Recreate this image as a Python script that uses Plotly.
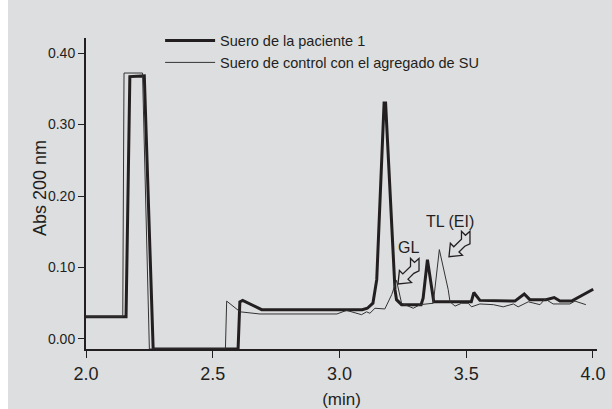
import plotly.graph_objects as go

# Serie 1: suero de la paciente 1 (trazo grueso)
t_paciente = [2.000, 2.158, 2.173, 2.230, 2.265, 2.600, 2.607, 2.618, 2.693, 3.090,
              3.110, 3.132, 3.147, 3.176, 3.182, 3.219, 3.225, 3.245, 3.322, 3.330,
              3.347, 3.372, 3.520, 3.530, 3.554, 3.692, 3.729, 3.751, 3.815, 3.847,
              3.870, 3.916, 4.001]
abs_paciente = [0.031, 0.031, 0.367, 0.368, -0.014, -0.014, 0.052, 0.054, 0.041, 0.041,
                0.043, 0.050, 0.083, 0.330, 0.330, 0.069, 0.055, 0.048, 0.048, 0.057,
                0.111, 0.052, 0.052, 0.065, 0.054, 0.053, 0.063, 0.055, 0.055, 0.058,
                0.053, 0.053, 0.0695]

# Serie 2: suero de control con el agregado de SU (trazo fino)
t_control = [2.000, 2.145, 2.150, 2.223, 2.250, 2.550, 2.555, 2.608, 2.686, 2.990,
             3.028, 3.068, 3.087, 3.107, 3.120, 3.140, 3.179, 3.206, 3.225, 3.245,
             3.291, 3.318, 3.370, 3.394, 3.429, 3.436, 3.456, 3.482, 3.508, 3.521,
             3.554, 3.607, 3.646, 3.686, 3.705, 3.745, 3.791, 3.811, 3.843, 3.909,
             3.929, 3.972]
abs_control = [0.031, 0.031, 0.372, 0.372, -0.014, -0.014, 0.053, 0.038, 0.035, 0.035,
               0.040, 0.036, 0.034, 0.038, 0.036, 0.043, 0.042, 0.062, 0.082, 0.050,
               0.043, 0.048, 0.050, 0.125, 0.069, 0.052, 0.046, 0.050, 0.050, 0.045,
               0.049, 0.048, 0.045, 0.049, 0.045, 0.052, 0.048, 0.056, 0.049, 0.049,
               0.053, 0.048]

x_ticks = [2.0, 2.5, 3.0, 3.5, 4.0]
x_ticktext = ["2.0", "2.5", "3.0", "3.5", "4.0"]
y_ticks = [0.0, 0.1, 0.2, 0.3, 0.4]
y_ticktext = ["0.00", "0.10", "0.20", "0.30", "0.40"]

nombres = ["Suero de la paciente 1", "Suero de control con el agregado de SU"]

# etiquetas de picos: texto, posición del texto, punta de la flecha
pico_texto = ["GL", "TL (EI)"]
pico_t_texto = [3.274, 3.436]
pico_abs_texto = [0.128, 0.164]
pico_t_flecha = [3.231, 3.432]
pico_abs_flecha = [0.077, 0.115]

INK = "#231f20"
BG = "#dddee0"

fig = go.Figure()
fig.add_trace(go.Scatter(x=t_paciente, y=abs_paciente, mode="lines", name=nombres[0],
                         line=dict(color=INK, width=3)))
fig.add_trace(go.Scatter(x=t_control, y=abs_control, mode="lines", name=nombres[1],
                         line=dict(color="#333333", width=1)))

# flecha hueca (en píxeles, relativa a la punta; y hacia arriba)
arrow_pts = [(0, 0), (1.4, 13.5), (4.8, 10.0), (12.5, 17.5), (12.5, 25.5), (16.5, 21.5),
             (21, 25.5), (21, 13), (15.8, 10.6), (10.0, 4.8), (13.5, 1.4)]
arrow_path = "M" + " L".join(f"{px:.1f},{py:.1f}" for px, py in arrow_pts) + " Z"

for txt, tx, ty, ax_, ay_ in zip(pico_texto, pico_t_texto, pico_abs_texto,
                                 pico_t_flecha, pico_abs_flecha):
    fig.add_annotation(x=tx, y=ty, text=txt, showarrow=False,
                       font=dict(family="Liberation Sans", size=16, color=INK))
    fig.add_shape(type="path", xref="x", yref="y", xsizemode="pixel", ysizemode="pixel",
                  xanchor=ax_, yanchor=ay_, path=arrow_path,
                  fillcolor=BG, line=dict(color=INK, width=1.3))

W, H = 612, 409
L, R, T, B = 86, 15, 38, 60
pw, ph = W - L - R, H - T - B
fig.add_shape(type="rect", xref="paper", yref="paper", layer="below",
              x0=(8 - L) / pw, x1=(W - L) / pw, y0=-B / ph, y1=(H - T - 9) / ph,
              fillcolor=BG, line=dict(width=0))

# título del eje Y
fig.add_annotation(xref="paper", yref="paper", x=(40 - L) / pw, y=(H - B - 188) / ph,
                   xanchor="center", yanchor="middle",
                   text="Abs 200 nm", textangle=-90, showarrow=False,
                   font=dict(family="Liberation Sans", size=18, color=INK))

fig.update_layout(
    width=W, height=H,
    margin=dict(l=L, r=R, t=T, b=B),
    paper_bgcolor="white", plot_bgcolor=BG,
    font=dict(family="Liberation Sans", color=INK),
    showlegend=True,
    legend=dict(x=0.145, y=1.043, xanchor="left", yanchor="top", bgcolor="rgba(0,0,0,0)",
                font=dict(family="Liberation Sans", size=14.5, color=INK),
                itemwidth=50, tracegroupgap=0),
    xaxis=dict(range=[2.0, 4.016], tickvals=x_ticks, ticktext=x_ticktext, automargin=False,
               showgrid=False, zeroline=False, showline=True, linecolor=INK, linewidth=2,
               ticks="outside", ticklen=7, tickwidth=1, tickcolor=INK,
               tickfont=dict(family="Liberation Sans", size=18, color=INK),
               title=dict(text="(min)", standoff=14,
                          font=dict(family="Liberation Sans", size=17, color=INK))),
    yaxis=dict(range=[-0.014, 0.421], tickvals=y_ticks, ticktext=y_ticktext, automargin=False,
               showgrid=False, zeroline=False, showline=True, linecolor=INK, linewidth=2,
               ticks="outside", ticklen=6, tickwidth=1, tickcolor=INK,
               tickfont=dict(family="Liberation Sans", size=14, color=INK)),
)

fig.write_html("out.html")
